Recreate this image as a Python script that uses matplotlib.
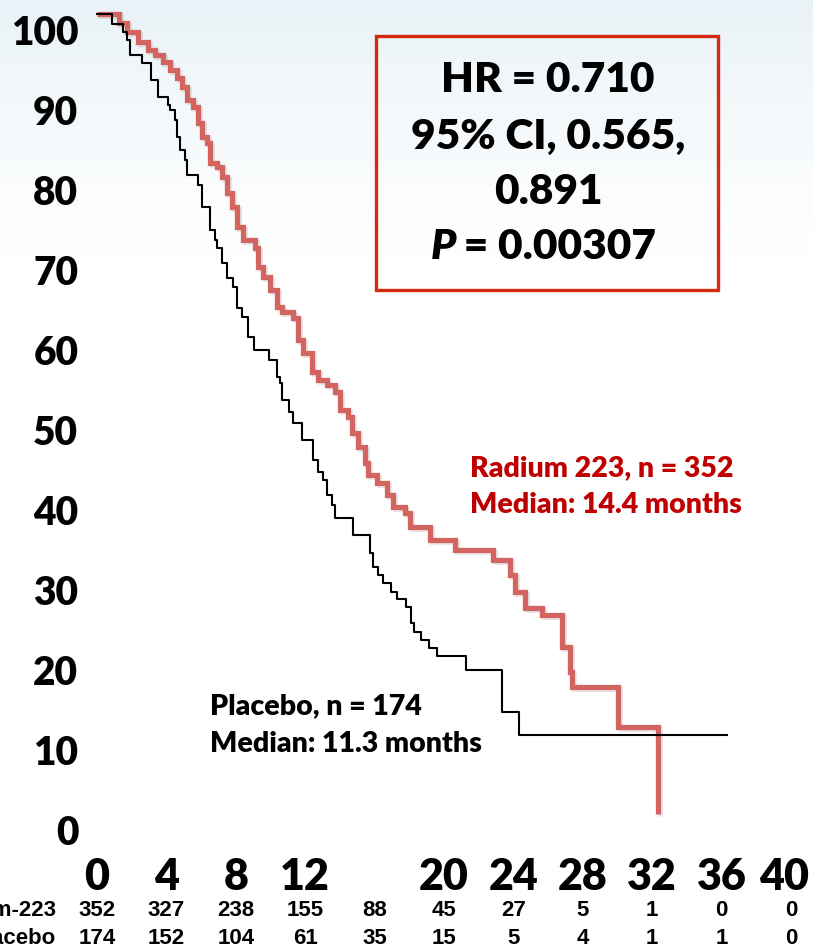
import numpy as np
import matplotlib
matplotlib.use("Agg")
import matplotlib.pyplot as plt
import matplotlib.patheffects as pe
import matplotlib.font_manager as fm
from matplotlib.transforms import ScaledTranslation, blended_transform_factory
from matplotlib.patches import Rectangle

# ---------------- data ----------------
radium_t = [0, 1.27, 1.73, 2.36, 2.94, 3.34, 3.80, 4.21, 4.61, 4.90, 5.19, 5.53, 5.82,
            6.05, 6.34, 6.51, 6.92, 7.20, 7.49, 7.78, 8.07, 8.41, 9.11, 9.28, 9.57,
            9.97, 10.37, 10.66, 11.30, 11.59, 11.87, 12.39, 12.74, 13.26, 13.72, 14.01,
            14.47, 14.70, 15.04, 15.45, 15.62, 16.14, 16.71, 17.06, 17.75, 18.04, 19.19,
            20.63, 22.82, 23.80, 24.09, 24.67, 25.65, 26.80, 27.26, 27.38, 30.03, 32.33]
radium_s = [100, 98.9, 97.75, 96.5, 95.5, 94.9, 94.0, 93.0, 92.0, 90.9, 89.25, 88.4, 86.4,
            84.6, 83.9, 81.4, 80.9, 79.6, 77.6, 75.9, 73.4, 71.75, 70.75, 68.4, 67.1,
            65.5, 63.4, 62.75, 62.0, 59.25, 57.6, 55.25, 54.25, 53.6, 52.75, 50.5,
            49.6, 47.6, 45.9, 43.9, 42.4, 41.4, 39.9, 38.4, 37.6, 35.9, 34.25,
            33.0, 31.75, 29.9, 27.75, 25.75, 24.9, 20.9, 17.75, 15.9, 10.9, 0]

placebo_t = [0, 0.86, 1.50, 1.73, 1.90, 2.59, 3.11, 3.52, 4.09, 4.21, 4.50, 4.61, 4.78,
             5.07, 5.19, 5.82, 6.05, 6.51, 6.80, 6.92, 7.20, 7.49, 7.84, 8.07, 8.36,
             8.70, 9.05, 9.91, 10.37, 10.55, 10.66, 11.07, 11.30, 11.82, 12.45, 12.74,
             13.03, 13.26, 13.54, 13.72, 14.76, 15.73, 15.91, 16.20, 16.48, 16.95, 17.29,
             17.81, 18.10, 18.27, 18.67, 19.14, 19.60, 21.27, 23.34, 24.32, 36.31]
placebo_s = [100, 98.75, 97.75, 96.75, 94.9, 93.9, 91.75, 89.6, 88.6, 88.0, 86.75, 84.6, 83.0,
             81.75, 79.9, 78.6, 75.9, 73.0, 71.75, 70.75, 68.9, 67.0, 65.9, 63.25, 62.1,
             59.6, 58.0, 56.75, 54.6, 53.9, 51.75, 50.25, 48.9, 46.75, 44.25, 42.75,
             41.75, 39.9, 38.6, 37.0, 34.9, 32.6, 30.9, 29.9, 28.9, 27.75, 26.9,
             25.9, 23.9, 22.75, 21.75, 20.75, 19.75, 18.0, 12.75, 9.9, 9.9]

x_ticks = [0, 4, 8, 12, 20, 24, 28, 32, 36, 40]
y_ticks = [0, 10, 20, 30, 40, 50, 60, 70, 80, 90, 100]
risk_times = [0, 4, 8, 12, 16, 20, 24, 28, 32, 36, 40]
risk_radium = [352, 327, 238, 155, 88, 45, 27, 5, 1, 0, 0]
risk_placebo = [174, 152, 104, 61, 35, 15, 5, 4, 1, 1, 0]
risk_labels = ["Radium-223", "Placebo"]

box_lines = ["HR = 0.710", "95% CI, 0.565,", "0.891"]
p_label, p_value = "P", " = 0.00307"

# ---------------- fonts ----------------
def pick_font(family, weights, style="normal"):
    for w in weights:
        for f in fm.fontManager.ttflist:
            if f.name == family and f.weight == w and f.style == style:
                return f.fname
    return None

heavy_path = pick_font("Lato", [800, 900, 700])
heavy_it_path = pick_font("Lato", [800, 900, 700], "italic")
risk_path = pick_font("Liberation Sans", [700])


def FP(size, italic=False):
    p = heavy_it_path if italic else heavy_path
    if p:
        return fm.FontProperties(fname=p, size=size)
    return fm.FontProperties(family="Lato", weight="bold",
                             style="italic" if italic else "normal", size=size)


def RFP(size):
    if risk_path:
        return fm.FontProperties(fname=risk_path, size=size)
    return fm.FontProperties(family="DejaVu Sans", weight="bold", size=size)


# ---------------- figure ----------------
W, H, DPI = 813, 951, 100
fig = plt.figure(figsize=(W / DPI, H / DPI), dpi=DPI)
plt.rcParams["font.family"] = ["Lato", "DejaVu Sans"]

# background gradient
bg = fig.add_axes([0, 0, 1, 1], zorder=-10)
grad = np.ones((H, 1, 3))
yy = np.arange(H)
f = np.clip(1 - yy / 260.0, 0, 1) ** 1.2
top = np.array([0.915, 0.950, 0.970])
for c in range(3):
    grad[:, 0, c] = 1 - (1 - top[c]) * f
bg.imshow(grad, aspect="auto", extent=[0, 1, 0, 1], origin="upper")
bg.axis("off")

# axes geometry: x0=97px, 17.35 px/month; y0=814px, 8 px/%
xlim = (-1, 41)
ylim = (-3, 101.5)
pxm, pxp = 17.35, 8.0
left_px = 97 + xlim[0] * pxm
right_px = 97 + xlim[1] * pxm
bot_px = 814 - ylim[0] * pxp
top_px = 814 - ylim[1] * pxp
ax = fig.add_axes([left_px / W, 1 - bot_px / H, (right_px - left_px) / W, (bot_px - top_px) / H])
ax.set_xlim(*xlim)
ax.set_ylim(*ylim)
ax.patch.set_alpha(0)
for s in ax.spines.values():
    s.set_visible(False)

red = "#d3645f"
ax.step(radium_t, radium_s, where="post", color=red, lw=3.8, solid_capstyle="butt",
        solid_joinstyle="miter", zorder=3,
        path_effects=[pe.SimpleLineShadow(offset=(1.5, -1.5), alpha=0.18, shadow_color="gray"), pe.Normal()])
ax.step(placebo_t, placebo_s, where="post", color="black", lw=1.5, zorder=4)

ax.set_xticks(x_ticks)
ax.set_xticklabels([str(v) for v in x_ticks])
ax.set_yticks(y_ticks)
ax.set_yticklabels([str(v) for v in y_ticks])
for lbl in ax.get_xticklabels():
    lbl.set_fontproperties(FP(31))
for lbl in ax.get_yticklabels():
    lbl.set_fontproperties(FP(28))
ax.tick_params(axis="both", length=0)
ax.tick_params(axis="x", pad=14)
ax.tick_params(axis="y", pad=1)
off = ScaledTranslation(0, -16 / DPI, fig.dpi_scale_trans)
for lbl in ax.get_yticklabels():
    lbl.set_transform(lbl.get_transform() + off)
xl = ax.get_xticklabels()
xl[-1].set_transform(xl[-1].get_transform() + ScaledTranslation(-7 / DPI, 0, fig.dpi_scale_trans))

# HR box
rx0, rx1, ry0, ry1 = 376, 718, 36, 290
fig.patches.append(Rectangle((rx0 / W, 1 - ry1 / H), (rx1 - rx0) / W, (ry1 - ry0) / H,
                             transform=fig.transFigure, fill=False, edgecolor="#d42a12", lw=2.4, zorder=5))
line_y = [80, 137, 192]
for txt, yv in zip(box_lines, line_y):
    fig.text((rx0 + rx1) / 2 / W + 1 / W, 1 - yv / H, txt, ha="center", va="center",
             fontproperties=FP(30.5), color="black")
fig.text(456 / W, 1 - 247 / H, p_label, ha="right", va="center",
         fontproperties=FP(30.5, italic=True), color="black")
fig.text(454 / W, 1 - 247 / H, p_value, ha="left", va="center",
         fontproperties=FP(30.5), color="black")

# curve labels
LS = 20.5
fig.text(470 / W, 1 - 468 / H, "Radium 223, n = 352", color="#c00000",
         fontproperties=FP(LS), ha="left", va="center")
fig.text(470 / W, 1 - 505 / H, "Median: 14.4 months", color="#c00000",
         fontproperties=FP(LS), ha="left", va="center")
fig.text(210 / W, 1 - 706 / H, "Placebo, n = 174", color="black",
         fontproperties=FP(LS), ha="left", va="center")
fig.text(210 / W, 1 - 744 / H, "Median: 11.3 months", color="black",
         fontproperties=FP(LS), ha="left", va="center")

# risk table
tr = blended_transform_factory(ax.transData, fig.transFigure)
for row, (vals, lab) in enumerate(zip([risk_radium, risk_placebo], risk_labels)):
    yv = 1 - (910 + row * 29) / H
    fig.text(56 / W, yv, lab, ha="right", va="center", fontproperties=RFP(16))
    for t, v in zip(risk_times, vals):
        ax.text(t, yv, str(v), transform=tr, ha="center", va="center",
                fontproperties=RFP(16), clip_on=False)

fig.savefig("out.png", dpi=DPI)
